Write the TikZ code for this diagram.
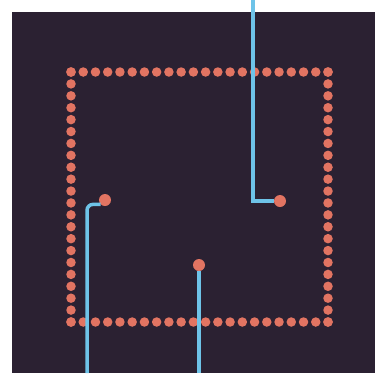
\documentclass[tikz,border=0pt]{standalone}
\usepackage{tikz}
\usetikzlibrary{positioning,calc}
\definecolor{panelpurple}{HTML}{2B2132}
\definecolor{dotsalmon}{HTML}{E27462}
\definecolor{wireblue}{HTML}{6EC3E8}
\begin{document}
\begin{tikzpicture}[x=1pt, y=-1pt,
  pin/.style={circle, fill=dotsalmon, inner sep=0pt, minimum size=9.5pt},
  pad/.style={circle, fill=dotsalmon, inner sep=0pt, minimum size=12pt},
  wire/.style={draw=wireblue, line width=3.5pt}]
  \useasboundingbox (0,0) rectangle (375,373);
  \fill[white] (0,0) rectangle (375,373);
  \fill[panelpurple] (12,12) rectangle (375,373);
  % dotted square of pins
  \foreach \i in {0,...,21} {
    \node[pin] at ({71+\i*257/21},72) {};
    \node[pin] at ({71+\i*257/21},322) {};
    \node[pin] at (71,{72+\i*250/21}) {};
    \node[pin] at (328,{72+\i*250/21}) {};
  }
  % inner pads
  \node[pad] (padleft) at (105,200) {};
  \node[pad] (padright) at (280,201) {};
  \node[pad] (padbottom) at (199,265) {};
  % wire ends
  \coordinate (topend) at (253,0);
  \coordinate (leftend) at (87,373);
  \coordinate (bottomend) at (199,373);
  \draw[wire] (topend) |- (padright.west);
  \draw[wire, rounded corners=6pt] (leftend) |- (padleft.south west);
  \draw[wire] (bottomend) -- (padbottom.south);
\end{tikzpicture}
\end{document}
